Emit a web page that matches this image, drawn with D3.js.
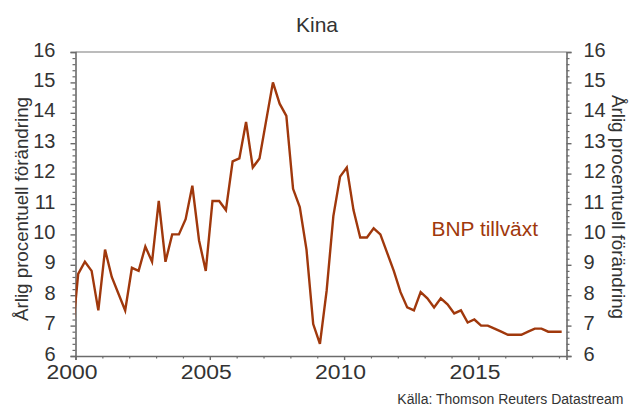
<!DOCTYPE html>
<html>
<head>
<meta charset="utf-8">
<script src="https://cdn.jsdelivr.net/npm/d3@7"></script>
<style>
  html, body { margin: 0; padding: 0; background: #fff; }
  svg { display: block; font-family: "Liberation Sans", Arial, sans-serif; }
</style>
</head>
<body>
<svg id="chart" width="632" height="407"></svg>
<script>
// ---- Data (China GDP, annual % change, quarterly) ----
const quarters = [
  "1999Q4",
  "2000Q1","2000Q2","2000Q3","2000Q4",
  "2001Q1","2001Q2","2001Q3","2001Q4",
  "2002Q1","2002Q2","2002Q3","2002Q4",
  "2003Q1","2003Q2","2003Q3","2003Q4",
  "2004Q1","2004Q2","2004Q3","2004Q4",
  "2005Q1","2005Q2","2005Q3","2005Q4",
  "2006Q1","2006Q2","2006Q3","2006Q4",
  "2007Q1","2007Q2","2007Q3","2007Q4",
  "2008Q1","2008Q2","2008Q3","2008Q4",
  "2009Q1","2009Q2","2009Q3","2009Q4",
  "2010Q1","2010Q2","2010Q3","2010Q4",
  "2011Q1","2011Q2","2011Q3","2011Q4",
  "2012Q1","2012Q2","2012Q3","2012Q4",
  "2013Q1","2013Q2","2013Q3","2013Q4",
  "2014Q1","2014Q2","2014Q3","2014Q4",
  "2015Q1","2015Q2","2015Q3","2015Q4",
  "2016Q1","2016Q2","2016Q3","2016Q4",
  "2017Q1","2017Q2","2017Q3","2017Q4",
  "2018Q1"
];
const gdpGrowth = [
  6.4,
  8.7, 9.1, 8.8, 7.5,
  9.5, 8.6, 8.05, 7.5,
  8.9, 8.8, 9.6, 9.1,
  11.1, 9.1, 10.0, 10.0,
  10.5, 11.6, 9.8, 8.8,
  11.1, 11.1, 10.8, 12.4,
  12.5, 13.7, 12.2, 12.5,
  13.75, 15.0, 14.3, 13.9,
  11.5, 10.9, 9.5, 7.05,
  6.4, 8.15, 10.6, 11.9,
  12.2, 10.8, 9.9, 9.9,
  10.2, 10.0, 9.4, 8.8,
  8.1, 7.6, 7.5, 8.1,
  7.9, 7.6, 7.9, 7.7,
  7.4, 7.5, 7.1, 7.2,
  7.0, 7.0, 6.9, 6.8,
  6.7, 6.7, 6.7, 6.8,
  6.9, 6.9, 6.8, 6.8,
  6.8
];
const yTicks = [6, 7, 8, 9, 10, 11, 12, 13, 14, 15, 16];
const xTickYears = [2000, 2005, 2010, 2015];
const titleText = "Kina";
const axisTitle = "Årlig procentuell förändring";
const seriesLabel = "BNP tillväxt";
const sourceText = "Källa: Thomson Reuters Datastream";

// ---- Layout ----
const W = 632, H = 407;
const plot = { left: 75.5, right: 566.5, top: 52, bottom: 356 };
const lineColor = "#A0380C";
const axisColor = "#6b6b6b";
const textColor = "#333333";

const svg = d3.select("#chart");

const quarterToYear = q => +q.slice(0, 4) + (+q.slice(5) - 1) * 0.25 + 0.1;
const data = quarters.map((q, i) => ({ t: quarterToYear(q), v: gdpGrowth[i] }));

const x = d3.scaleLinear().domain([2000, 2018.28]).range([plot.left, plot.right]);
const y = d3.scaleLinear().domain([6, 16]).range([plot.bottom, plot.top]);

// clip
svg.append("defs").append("clipPath").attr("id", "clip")
  .append("rect")
  .attr("x", plot.left).attr("y", plot.top - 5)
  .attr("width", plot.right - plot.left).attr("height", plot.bottom - plot.top + 5);

// top frame line
svg.append("line")
  .attr("x1", plot.left).attr("x2", plot.right)
  .attr("y1", plot.top).attr("y2", plot.top)
  .attr("stroke", "#7a7a7a").attr("stroke-width", 1.2);

// y minor ticks values
const yMinor = d3.range(60, 161, 2).map(d => d / 10).filter(d => !yTicks.includes(d));

function drawYAxis(side) {
  const xPos = side === "left" ? plot.left : plot.right;
  const axisGen = (side === "left" ? d3.axisLeft(y) : d3.axisRight(y))
    .tickValues(yTicks).tickSize(5).tickPadding(side === "left" ? 15 : 12)
    .tickFormat(d3.format("d"));
  const g = svg.append("g").attr("transform", `translate(${xPos},0)`).call(axisGen);
  g.select(".domain").attr("stroke", axisColor).attr("stroke-width", 1.6);
  g.selectAll(".tick line").attr("stroke", axisColor).attr("stroke-width", 1.4);
  g.selectAll(".tick text")
    .attr("fill", textColor).style("font-size", "20px")
    .attr("dy", "0.2em");
  const minor = (side === "left" ? d3.axisLeft(y) : d3.axisRight(y))
    .tickValues(yMinor).tickSize(3).tickFormat("");
  const gm = svg.append("g").attr("transform", `translate(${xPos},0)`).call(minor);
  gm.select(".domain").remove();
  gm.selectAll(".tick line").attr("stroke", axisColor).attr("stroke-width", 1.2);
}
drawYAxis("left");
drawYAxis("right");

// x axis
const xMinorYears = d3.range(2001, 2019).filter(d => !xTickYears.includes(d));
const xAxis = d3.axisBottom(x).tickValues(xTickYears).tickSize(4).tickPadding(4)
  .tickFormat(d3.format("d"));
const gx = svg.append("g").attr("transform", `translate(0,${plot.bottom})`).call(xAxis);
gx.select(".domain").attr("stroke", axisColor).attr("stroke-width", 1.6);
gx.selectAll(".tick line").attr("stroke", axisColor).attr("stroke-width", 1.4);
gx.selectAll(".tick text")
  .attr("fill", textColor).style("font-size", "20px")
  .attr("x", -4).attr("y", 9).attr("dy", "0.71em")
  .attr("textLength", 51).attr("lengthAdjust", "spacingAndGlyphs");
const gxm = svg.append("g").attr("transform", `translate(0,${plot.bottom})`)
  .call(d3.axisBottom(x).tickValues(xMinorYears).tickSize(2.5).tickFormat(""));
gxm.select(".domain").remove();
gxm.selectAll(".tick line").attr("stroke", axisColor).attr("stroke-width", 1.2);

// line
const line = d3.line().x(d => x(d.t)).y(d => y(d.v));
svg.append("path")
  .datum(data)
  .attr("clip-path", "url(#clip)")
  .attr("fill", "none")
  .attr("stroke", lineColor)
  .attr("stroke-width", 2.4)
  .attr("stroke-linejoin", "miter")
  .attr("d", line);

// title
svg.append("text")
  .attr("x", 317).attr("y", 31.5)
  .attr("text-anchor", "middle")
  .attr("fill", textColor).style("font-size", "21px")
  .text(titleText);

// series label
svg.append("text")
  .attr("x", 431.5).attr("y", 236)
  .attr("fill", lineColor).style("font-size", "20px")
  .attr("textLength", 106.5).attr("lengthAdjust", "spacingAndGlyphs")
  .text(seriesLabel);

// axis titles
svg.append("text")
  .attr("transform", "translate(28,209) rotate(-90)")
  .attr("text-anchor", "middle")
  .attr("fill", textColor).style("font-size", "18px")
  .attr("textLength", 224).attr("lengthAdjust", "spacingAndGlyphs")
  .text(axisTitle);
svg.append("text")
  .attr("transform", "translate(612,207) rotate(90)")
  .attr("text-anchor", "middle")
  .attr("fill", textColor).style("font-size", "18px")
  .attr("textLength", 224).attr("lengthAdjust", "spacingAndGlyphs")
  .text(axisTitle);

// source
svg.append("text")
  .attr("x", 623.5).attr("y", 404)
  .attr("text-anchor", "end")
  .attr("fill", textColor).style("font-size", "14px")
  .text(sourceText);
</script>
</body>
</html>
